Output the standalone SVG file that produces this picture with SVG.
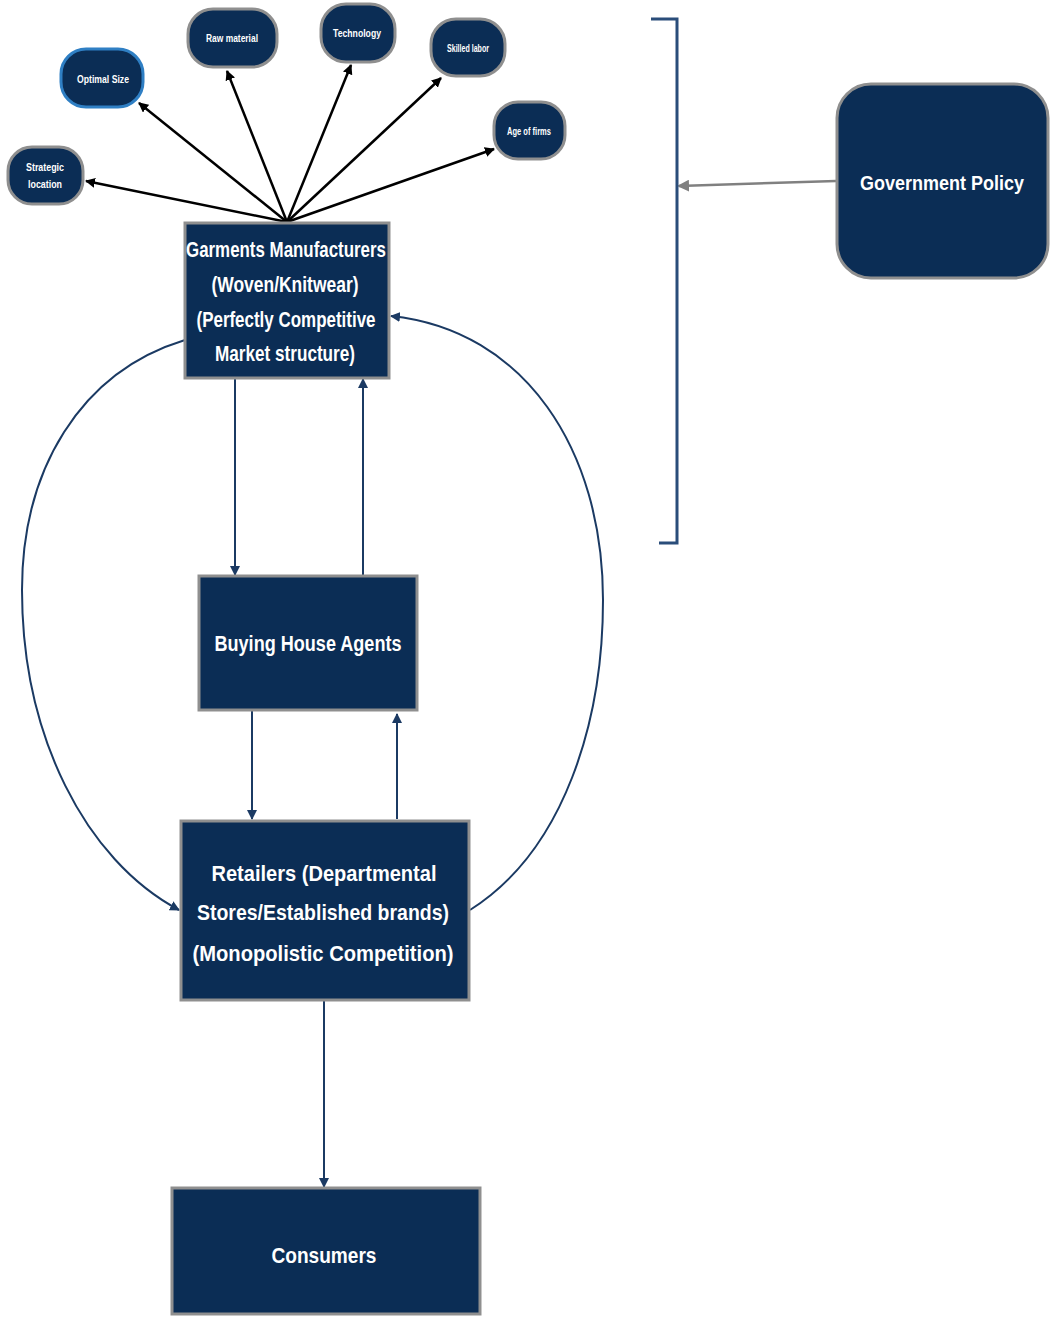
<svg xmlns="http://www.w3.org/2000/svg" width="1051" height="1317" viewBox="0 0 1051 1317">
<defs>
<style>
.box{fill:#0b2d55;stroke:#8f8f8f;stroke-width:3}
.pill{fill:#0b2d55;stroke:#8f8f8f;stroke-width:3}
.t{fill:#ffffff;font-family:"Liberation Sans",Arial,sans-serif;font-weight:bold;text-anchor:middle;dominant-baseline:central}
.big{font-size:22px}
.sm{font-size:11px}
.blk{fill:none;stroke:#000;stroke-width:2.5}
.nav{fill:none;stroke:#1b3a63;stroke-width:2}
</style>
<marker id="ab" markerWidth="10" markerHeight="10" refX="9" refY="5" orient="auto" markerUnits="userSpaceOnUse">
<path d="M0,0 L10,5 L0,10 z" fill="#000"/>
</marker>
<marker id="an" markerWidth="10" markerHeight="10" refX="9" refY="5" orient="auto" markerUnits="userSpaceOnUse">
<path d="M0,0 L10,5 L0,10 z" fill="#1b3a63"/>
</marker>
<marker id="ag" markerWidth="12" markerHeight="12" refX="10" refY="6" orient="auto" markerUnits="userSpaceOnUse">
<path d="M0,0 L12,6 L0,12 z" fill="#808080"/>
</marker>
</defs>
<rect width="1051" height="1317" fill="#ffffff"/>

<g id="connectors">
<line class="blk" x1="287" y1="222" x2="86" y2="181" marker-end="url(#ab)"/>
<line class="blk" x1="287" y1="222" x2="139" y2="103" marker-end="url(#ab)"/>
<line class="blk" x1="287" y1="222" x2="227" y2="71" marker-end="url(#ab)"/>
<line class="blk" x1="287" y1="222" x2="351" y2="65" marker-end="url(#ab)"/>
<line class="blk" x1="287" y1="222" x2="441" y2="78" marker-end="url(#ab)"/>
<line class="blk" x1="287" y1="222" x2="494" y2="149" marker-end="url(#ab)"/>
<line class="nav" x1="235" y1="379" x2="235" y2="575" marker-end="url(#an)"/>
<line class="nav" x1="363" y1="575" x2="363" y2="379" marker-end="url(#an)"/>
<line class="nav" x1="252" y1="711" x2="252" y2="819" marker-end="url(#an)"/>
<line class="nav" x1="397" y1="819" x2="397" y2="714" marker-end="url(#an)"/>
<line class="nav" x1="324" y1="1001" x2="324" y2="1187" marker-end="url(#an)"/>
<path class="nav" d="M185,340 C80,372 22,470 22,590 C22,735 85,860 179,910" marker-end="url(#an)"/>
<path class="nav" d="M470,910 C565,850 603,720 603,600 C603,450 525,330 391,316" marker-end="url(#an)"/>
<line x1="836" y1="181" x2="679" y2="186" stroke="#808080" stroke-width="2.5" marker-end="url(#ag)"/>
<path d="M651,19 H677 V543 H659" fill="none" stroke="#2a4d7a" stroke-width="3"/>
</g>

<g id="strategic-location">
<rect class="pill" x="8" y="147" width="75" height="57" rx="24"/>
<text class="t sm" x="45" y="167" textLength="38" lengthAdjust="spacingAndGlyphs">Strategic</text>
<text class="t sm" x="45" y="184" textLength="34" lengthAdjust="spacingAndGlyphs">location</text>
</g>
<g id="optimal-size">
<rect x="61" y="49" width="82" height="58" rx="25" fill="#0b2d55" stroke="#2f7fc4" stroke-width="3"/>
<text class="t sm" x="103" y="79" textLength="52" lengthAdjust="spacingAndGlyphs">Optimal Size</text>
</g>
<g id="raw-material">
<rect class="pill" x="188" y="9" width="89" height="58" rx="25"/>
<text class="t sm" x="232" y="38" textLength="52" lengthAdjust="spacingAndGlyphs">Raw material</text>
</g>
<g id="technology">
<rect class="pill" x="321" y="4" width="74" height="58" rx="25"/>
<text class="t sm" x="357" y="33" textLength="48" lengthAdjust="spacingAndGlyphs">Technology</text>
</g>
<g id="skilled-labor">
<rect class="pill" x="431" y="19" width="74" height="57" rx="25"/>
<text class="t sm" x="468" y="48" textLength="42" lengthAdjust="spacingAndGlyphs">Skilled labor</text>
</g>
<g id="age-of-firms">
<rect class="pill" x="494" y="102" width="71" height="57" rx="24"/>
<text class="t sm" x="529" y="131" textLength="44" lengthAdjust="spacingAndGlyphs">Age of firms</text>
</g>

<g id="garments-manufacturers">
<rect class="box" x="185" y="223" width="204" height="155"/>
<text class="t big" x="286" y="249" textLength="200" lengthAdjust="spacingAndGlyphs">Garments Manufacturers</text>
<text class="t big" x="285" y="284" textLength="147" lengthAdjust="spacingAndGlyphs">(Woven/Knitwear)</text>
<text class="t big" x="286" y="319" textLength="179" lengthAdjust="spacingAndGlyphs">(Perfectly Competitive</text>
<text class="t big" x="285" y="353" textLength="140" lengthAdjust="spacingAndGlyphs">Market structure)</text>
</g>

<g id="buying-house-agents">
<rect class="box" x="199" y="576" width="218" height="134"/>
<text class="t big" x="308" y="643" textLength="187" lengthAdjust="spacingAndGlyphs">Buying House Agents</text>
</g>

<g id="retailers">
<rect class="box" x="181" y="821" width="288" height="179"/>
<text class="t big" x="324" y="873" textLength="225" lengthAdjust="spacingAndGlyphs">Retailers (Departmental</text>
<text class="t big" x="323" y="912" textLength="252" lengthAdjust="spacingAndGlyphs">Stores/Established brands)</text>
<text class="t big" x="323" y="953" textLength="261" lengthAdjust="spacingAndGlyphs">(Monopolistic Competition)</text>
</g>

<g id="consumers">
<rect class="box" x="172" y="1188" width="308" height="126"/>
<text class="t big" x="324" y="1255" textLength="105" lengthAdjust="spacingAndGlyphs">Consumers</text>
</g>

<g id="government-policy">
<rect class="box" x="837" y="84" width="211" height="194" rx="34"/>
<text class="t" style="font-size:21px" x="942" y="182" textLength="164" lengthAdjust="spacingAndGlyphs">Government Policy</text>
</g>
</svg>
